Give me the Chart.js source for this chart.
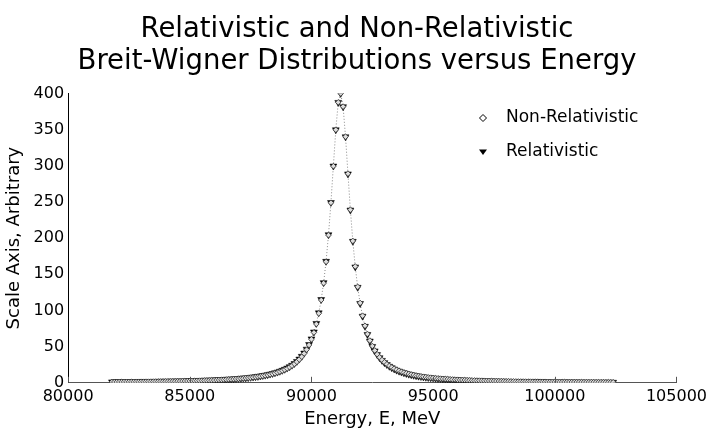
<!DOCTYPE html>
<html>
<head>
<meta charset="utf-8">
<script src="https://cdn.jsdelivr.net/npm/chart.js@4"></script>
<style>
  html, body { margin: 0; padding: 0; background: #fff; }
  #wrap { width: 711px; height: 440px; }
</style>
</head>
<body>
<div id="wrap"><canvas id="c" width="711" height="440"></canvas></div>
<script>
// energies in MeV
const energies = [
  81800,81900,82000,82100,82200,82300,82400,82500,82600,82700,
  82800,82900,83000,83100,83200,83300,83400,83500,83600,83700,
  83800,83900,84000,84100,84200,84300,84400,84500,84600,84700,
  84800,84900,85000,85100,85200,85300,85400,85500,85600,85700,
  85800,85900,86000,86100,86200,86300,86400,86500,86600,86700,
  86800,86900,87000,87100,87200,87300,87400,87500,87600,87700,
  87800,87900,88000,88100,88200,88300,88400,88500,88600,88700,
  88800,88900,89000,89100,89200,89300,89400,89500,89600,89700,
  89800,89900,90000,90100,90200,90300,90400,90500,90600,90700,
  90800,90900,91000,91100,91200,91300,91400,91500,91600,91700,
  91800,91900,92000,92100,92200,92300,92400,92500,92600,92700,
  92800,92900,93000,93100,93200,93300,93400,93500,93600,93700,
  93800,93900,94000,94100,94200,94300,94400,94500,94600,94700,
  94800,94900,95000,95100,95200,95300,95400,95500,95600,95700,
  95800,95900,96000,96100,96200,96300,96400,96500,96600,96700,
  96800,96900,97000,97100,97200,97300,97400,97500,97600,97700,
  97800,97900,98000,98100,98200,98300,98400,98500,98600,98700,
  98800,98900,99000,99100,99200,99300,99400,99500,99600,99700,
  99800,99900,100000,100100,100200,100300,100400,100500,100600,100700,
  100800,100900,101000,101100,101200,101300,101400,101500,101600,101700,
  101800,101900,102000,102100,102200,102300,102400
];

const nonRelativistic = [
  1.13,1.16,1.18,1.21,1.23,1.26,1.29,1.32,1.35,1.38,
  1.42,1.45,1.49,1.52,1.56,1.60,1.64,1.68,1.73,1.78,
  1.82,1.87,1.93,1.98,2.04,2.10,2.16,2.22,2.29,2.36,
  2.43,2.51,2.59,2.68,2.77,2.86,2.96,3.07,3.18,3.29,
  3.41,3.54,3.68,3.82,3.98,4.14,4.31,4.50,4.69,4.90,
  5.12,5.36,5.62,5.89,6.18,6.50,6.84,7.21,7.61,8.05,
  8.52,9.03,9.59,10.21,10.88,11.63,12.45,13.36,14.37,15.50,
  16.77,18.20,19.82,21.65,23.75,26.16,28.95,32.20,36.00,40.49,
  45.83,52.25,60.02,69.54,81.30,95.97,114.42,137.74,167.22,204.08,
  248.76,299.40,349.65,387.60,399.84,381.68,340.14,289.02,239.23,196.08,
  160.77,132.63,110.38,92.76,78.74,67.48,58.34,50.86,44.68,39.53,
  35.19,31.51,28.36,25.65,23.31,21.27,19.48,17.90,16.51,15.27,
  14.16,13.17,12.28,11.47,10.74,10.08,9.48,8.92,8.42,7.96,
  7.53,7.14,6.77,6.44,6.12,5.83,5.56,5.31,5.08,4.86,
  4.65,4.46,4.28,4.11,3.95,3.79,3.65,3.52,3.39,3.27,
  3.15,3.04,2.94,2.84,2.75,2.66,2.58,2.50,2.42,2.35,
  2.28,2.21,2.15,2.08,2.03,1.97,1.91,1.86,1.81,1.77,
  1.72,1.68,1.63,1.59,1.55,1.52,1.48,1.44,1.41,1.38,
  1.34,1.31,1.28,1.26,1.23,1.20,1.18,1.15,1.13,1.10,
  1.08,1.06,1.04,1.02,1.00,0.98,0.96,0.94,0.92,0.90,
  0.89,0.87,0.85,0.84,0.82,0.81,0.79
];

const relativistic = [
  1.26,1.29,1.31,1.34,1.37,1.40,1.43,1.46,1.49,1.53,
  1.56,1.60,1.63,1.67,1.71,1.75,1.79,1.84,1.89,1.93,
  1.98,2.04,2.09,2.15,2.21,2.27,2.33,2.40,2.47,2.54,
  2.62,2.70,2.78,2.87,2.96,3.06,3.16,3.27,3.38,3.50,
  3.63,3.76,3.90,4.05,4.21,4.37,4.55,4.74,4.94,5.15,
  5.38,5.63,5.89,6.17,6.47,6.79,7.14,7.52,7.92,8.37,
  8.85,9.37,9.94,10.56,11.25,12.01,12.84,13.76,14.79,15.94,
  17.22,18.67,20.31,22.16,24.25,26.68,29.49,32.75,36.58,41.09,
  46.45,52.89,60.69,70.23,82.00,96.67,115.11,138.41,167.83,204.58,
  249.10,299.55,349.63,387.46,399.84,381.52,339.90,288.66,238.74,195.48,
  160.11,131.92,109.66,92.05,78.04,66.80,57.68,50.23,44.07,38.94,
  34.63,30.97,27.85,25.16,22.81,20.79,19.02,17.46,16.09,14.86,
  13.77,12.79,11.91,11.12,10.40,9.75,9.15,8.61,8.12,7.66,
  7.24,6.86,6.50,6.17,5.87,5.58,5.32,5.07,4.84,4.63,
  4.43,4.24,4.06,3.90,3.74,3.59,3.45,3.32,3.20,3.08,
  2.97,2.86,2.76,2.67,2.58,2.49,2.41,2.33,2.26,2.19,
  2.12,2.06,2.00,1.94,1.88,1.83,1.77,1.72,1.68,1.63,
  1.59,1.54,1.50,1.46,1.43,1.39,1.36,1.32,1.29,1.26,
  1.23,1.20,1.17,1.14,1.12,1.09,1.07,1.04,1.02,1.00,
  0.98,0.96,0.94,0.92,0.90,0.88,0.86,0.84,0.83,0.81,
  0.79,0.78,0.76,0.75,0.73,0.72,0.71
];

const xTicks = [80000, 85000, 90000, 95000, 100000, 105000];
const yTicks = [0, 50, 100, 150, 200, 250, 300, 350, 400];

const FONT = "'DejaVu Sans', Verdana, sans-serif";

// small upward tick marks on the x axis + the legend in the upper right
const extras = {
  id: "extras",
  afterDraw(chart) {
    const ctx = chart.ctx;
    const xs = chart.scales.x;
    const bottom = chart.chartArea.bottom;
    ctx.save();
    ctx.strokeStyle = "#555";
    ctx.lineWidth = 1;
    xTicks.forEach(v => {
      const px = Math.round(xs.getPixelForValue(v)) + 0.5;
      ctx.beginPath();
      ctx.moveTo(px, bottom);
      ctx.lineTo(px, bottom - 6);
      ctx.stroke();
    });

    // legend
    const lx = 483, ly1 = 118, ly2 = 152;
    ctx.fillStyle = "#fff";
    ctx.strokeStyle = "#000";
    ctx.beginPath();
    ctx.moveTo(lx, ly1 - 3.5);
    ctx.lineTo(lx + 3.5, ly1);
    ctx.lineTo(lx, ly1 + 3.5);
    ctx.lineTo(lx - 3.5, ly1);
    ctx.closePath();
    ctx.fill();
    ctx.stroke();

    ctx.fillStyle = "#000";
    ctx.beginPath();
    ctx.moveTo(lx - 4, ly2 - 2.5);
    ctx.lineTo(lx + 4, ly2 - 2.5);
    ctx.lineTo(lx, ly2 + 3);
    ctx.closePath();
    ctx.fill();

    ctx.font = "17px " + FONT;
    ctx.textBaseline = "middle";
    ctx.textAlign = "left";
    ctx.fillText("Non-Relativistic", 506, ly1);
    ctx.fillText("Relativistic", 506, ly2);
    ctx.restore();
  }
};

new Chart(document.getElementById("c"), {
  type: "scatter",
  data: {
    datasets: [
      {
        label: "Relativistic",
        data: energies.map((e, i) => ({ x: e, y: relativistic[i] })),
        showLine: true,
        borderColor: "#8a8a8a",
        borderWidth: 1,
        borderDash: [1, 2],
        pointStyle: "triangle",
        rotation: 180,
        pointRadius: 4,
        pointBackgroundColor: "#000",
        pointBorderColor: "#000",
        pointBorderWidth: 0.5,
        order: 2
      },
      {
        label: "Non-Relativistic",
        data: energies.map((e, i) => ({ x: e, y: nonRelativistic[i] })),
        showLine: false,
        pointStyle: "rectRot",
        pointRadius: 2.8,
        pointBackgroundColor: "#ddd",
        pointBorderColor: "#333",
        pointBorderWidth: 0.8,
        order: 1
      }
    ]
  },
  options: {
    responsive: false,
    animation: false,
    layout: { padding: { left: 0, right: -3, top: 0, bottom: 12 } },
    plugins: {
      legend: { display: false },
      tooltip: { enabled: false },
      title: {
        display: true,
        text: ["Relativistic and Non-Relativistic", "Breit-Wigner Distributions versus Energy"],
        color: "#000",
        font: { family: FONT, size: 27.5, weight: "normal", lineHeight: 1.17 },
        padding: { top: 14, bottom: 15 }
      }
    },
    scales: {
      x: {
        type: "linear",
        min: 80000,
        max: 105000,
        afterBuildTicks: s => { s.ticks = xTicks.map(v => ({ value: v })); },
        ticks: {
          color: "#000",
          font: { family: FONT, size: 16 },
          padding: 4,
          callback: v => String(v)
        },
        grid: { display: false, drawTicks: false },
        border: { display: true, color: "#555", width: 1 },
        title: {
          display: true,
          text: "Energy, E, MeV",
          color: "#000",
          font: { family: FONT, size: 18, lineHeight: 1 },
          padding: { top: 0, bottom: 0 }
        }
      },
      y: {
        min: 0,
        max: 400,
        afterBuildTicks: s => { s.ticks = yTicks.map(v => ({ value: v })); },
        ticks: {
          color: "#000",
          font: { family: FONT, size: 16 },
          padding: 4
        },
        grid: { display: false, drawTicks: false },
        border: { display: true, color: "#000", width: 1 },
        title: {
          display: true,
          text: "Scale Axis, Arbitrary",
          color: "#000",
          font: { family: FONT, size: 18 },
          padding: { top: 4, bottom: 4 }
        }
      }
    }
  },
  plugins: [extras]
});
</script>
</body>
</html>
